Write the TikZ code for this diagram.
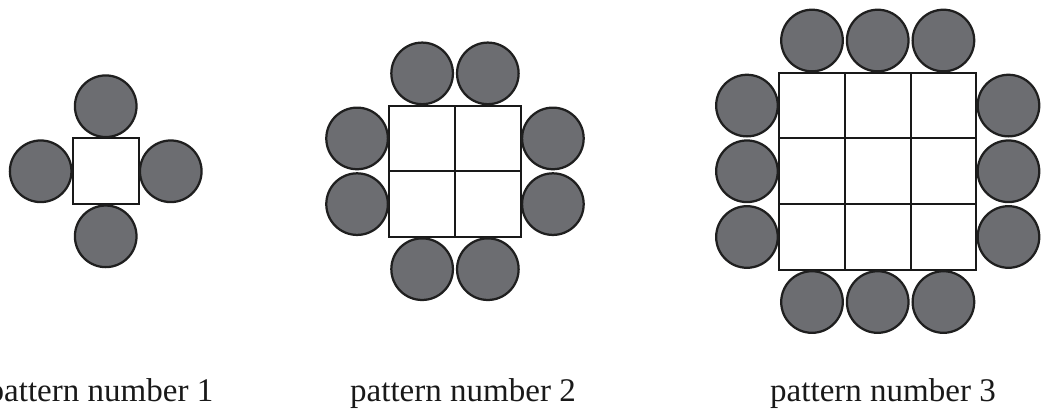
\documentclass[tikz,border=0pt]{standalone}
\usepackage{fontspec}
\setmainfont{Liberation Serif}
\usetikzlibrary{positioning}
\definecolor{ballgray}{RGB}{108,109,113}

\begin{document}
\begin{tikzpicture}[x=1.6425cm, y=1.6425cm,
    cell/.style={draw=black!90, line width=1.5pt, fill=white,
      minimum size=1.6425cm, inner sep=0pt},
    ball/.style={circle, draw=black!88, line width=1.6pt, fill=ballgray,
      minimum size=1.54cm, inner sep=0pt},
    lbl/.style={anchor=base, text=black!90,
      font=\fontsize{23.5}{28}\selectfont}]
  \useasboundingbox (0,0) rectangle (15.951,6.347);
  % === Patterns: n x n squares, n balls on each side ===
  \foreach \n/\cx/\lx in {1/1.609/1.53, 2/6.925/7.047, 3/13.359/13.440}{
    \pgfmathsetmacro\off{(\n+1)/2}
    \pgfmathsetmacro\edge{\n/2+0.49}
    \foreach \i in {1,...,\n}{
      \foreach \j in {1,...,\n}
        \node[cell] (p\n-c\i\j) at (\cx+\i-\off, 3.74+\j-\off) {};
      \node[ball] (p\n-t\i) at (\cx+\i-\off, 3.74+\edge) {};
      \node[ball] (p\n-b\i) at (\cx+\i-\off, 3.74-\edge) {};
      \node[ball] (p\n-l\i) at (\cx-\edge, 3.74+\i-\off) {};
      \node[ball] (p\n-r\i) at (\cx+\edge, 3.74+\i-\off) {};
    }
    % === Caption ===
    \node[lbl] (lbl\n) at (\lx, 0.233) {pattern number \n};
  }
\end{tikzpicture}
\end{document}
